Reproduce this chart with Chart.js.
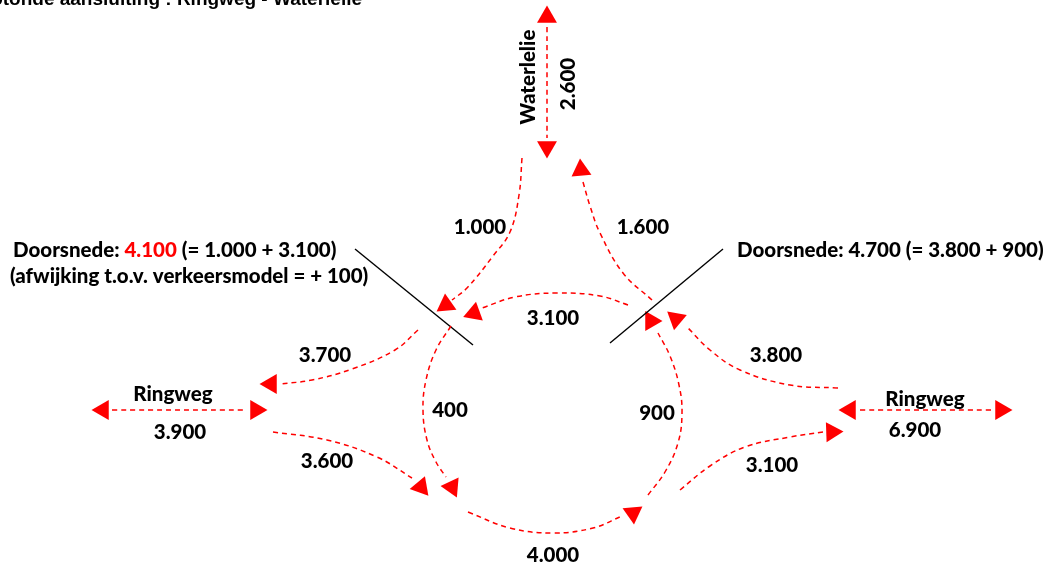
<!DOCTYPE html>
<html>
<head>
<meta charset="utf-8">
<script src="https://cdn.jsdelivr.net/npm/chart.js@4.4.1/dist/chart.umd.min.js"></script>
<style>
  body { margin: 0; background: #fff; }
  #wrap { width: 1052px; height: 566px; }
</style>
</head>
<body>
<div id="wrap"><canvas id="c" width="1052" height="566"></canvas></div>
<script>
const title = 'Rotonde aansluiting : Ringweg - Waterlelie';

// flow paths, in diagram coordinates
const waterlelie = [[547,27],[547,138]];
const in1000 = [[522,158],[519,195],[510,232],[493,256],[467,288],[452,300]];
const out1600 = [[583,182],[590,206],[600,233],[623,273],[652,300]];
const arc3100 = [[628,305],[600,296],[557,293],[515,297],[482,308]];
const arc400 = [[451,326],[436,350],[426,380],[423,410],[427,440],[436,462],[446,477]];
const arc4000 = [[468,512],[510,528],[553,533],[593,528],[622,516]];
const arc900 = [[648,495],[665,472],[678,443],[682,413],[679,385],[670,356],[658,333]];
const out3700 = [[418,330],[395,350],[352,369],[312,380],[280,384]];
const ringwegWest = [[112,410],[246,410]];
const in3600 = [[273,432],[327,440],[377,457],[412,478]];
const in3800 = [[838,388],[790,385],[740,370],[710,350],[688,328]];
const ringwegEast = [[860,410],[991,410]];
const out3100 = [[680,490],[710,466],[745,447],[790,437],[823,432]];

// arrow heads: position and direction (deg, clockwise from up)
const arrowX =   [547, 547, 446, 474, 452, 421, 633, 651, 676, 581, 271, 103, 256, 832, 850, 1001];
const arrowY =   [ 17, 147, 305, 313, 487, 487, 513, 321, 319, 170, 384, 410, 410, 432, 410,  410];
const arrowRot = [  0, 180, 235, 250, 155, 140, 175, 330, 310, 355, 270, 270,  90,  88, 270,   90];

// cross-section markers
const cutWest = [[355,249],[473,345]];
const cutEast = [[723,249],[610,343]];

// traffic volumes and road names
const labelText = ['1.000','1.600','3.100','400','900','4.000','3.700','3.600','3.800','3.100','Ringweg','3.900','Ringweg','6.900'];
const labelX =    [  480,    643,    553,   450,  657,   553,    325,    327,    776,    772,     173,     180,     925,    915];
const labelY =    [  227,    227,    318,   410,  413,   555,    355,    461,    355,    465,     394,     432,     399,    430];

const vertText = ['Waterlelie', '2.600'];
const vertX = [528, 568];
const vertY = [ 77,  84];

const westNote = [['Doorsnede: ', '#000'], ['4.100', '#ff0000'], [' (= 1.000 + 3.100)', '#000']];
const westNote2 = '(afwijking t.o.v. verkeersmodel = + 100)';
const eastNote = 'Doorsnede: 4.700 (= 3.800 + 900)';

const RED = '#ff0000';
const FONT = '900 20.5px Lato';

const toPts = arr => arr.map(p => ({x: p[0], y: p[1]}));

function flow(path) {
  return {
    data: toPts(path),
    showLine: true,
    borderColor: RED,
    borderWidth: 1.5,
    borderDash: [5, 4],
    tension: 0.4,
    pointRadius: 0,
    clip: false
  };
}

function cut(path) {
  return {
    data: toPts(path),
    showLine: true,
    borderColor: '#000',
    borderWidth: 1.4,
    pointRadius: 0,
    clip: false
  };
}

const textPlugin = {
  id: 'texts',
  afterDraw(chart) {
    const ctx = chart.ctx;
    const sx = chart.scales.x, sy = chart.scales.y;
    ctx.save();
    ctx.fillStyle = '#000';
    ctx.textBaseline = 'middle';

    ctx.font = FONT;
    ctx.textAlign = 'center';
    labelText.forEach((t, i) => {
      ctx.fillText(t, sx.getPixelForValue(labelX[i]), sy.getPixelForValue(labelY[i]));
    });

    vertText.forEach((t, i) => {
      ctx.save();
      ctx.translate(sx.getPixelForValue(vertX[i]), sy.getPixelForValue(vertY[i]));
      ctx.rotate(-Math.PI / 2);
      ctx.fillText(t, 0, 0);
      ctx.restore();
    });

    ctx.textAlign = 'left';
    let x = sx.getPixelForValue(13);
    const y1 = sy.getPixelForValue(250);
    westNote.forEach(part => {
      ctx.fillStyle = part[1];
      ctx.fillText(part[0], x, y1);
      x += ctx.measureText(part[0]).width;
    });
    ctx.fillStyle = '#000';
    ctx.fillText(westNote2, sx.getPixelForValue(10), sy.getPixelForValue(276));
    ctx.fillText(eastNote, sx.getPixelForValue(737), sy.getPixelForValue(250));

    // title, cut off at the top edge
    ctx.font = 'bold 19px "Liberation Sans"';
    ctx.textAlign = 'right';
    ctx.textBaseline = 'alphabetic';
    ctx.fillText(title, sx.getPixelForValue(362), sy.getPixelForValue(5));
    ctx.restore();
  }
};

new Chart(document.getElementById('c'), {
  type: 'scatter',
  data: {
    datasets: [
      flow(waterlelie), flow(in1000), flow(out1600), flow(arc3100), flow(arc400),
      flow(arc4000), flow(arc900), flow(out3700), flow(ringwegWest), flow(in3600),
      flow(in3800), flow(ringwegEast), flow(out3100),
      cut(cutWest), cut(cutEast),
      {
        data: arrowX.map((x, i) => ({x: x, y: arrowY[i]})),
        showLine: false,
        pointStyle: 'triangle',
        pointRadius: 11.5,
        pointRotation: arrowRot,
        backgroundColor: RED,
        borderColor: RED,
        borderWidth: 0,
        clip: false
      }
    ]
  },
  options: {
    responsive: false,
    devicePixelRatio: 1,
    animation: false,
    events: [],
    layout: { padding: 0, autoPadding: false },
    plugins: { legend: { display: false }, tooltip: { enabled: false } },
    scales: {
      x: { type: 'linear', display: false, min: 0, max: 1052 },
      y: { type: 'linear', display: false, min: 0, max: 566, reverse: true }
    }
  },
  plugins: [textPlugin]
});
</script>
</body>
</html>
